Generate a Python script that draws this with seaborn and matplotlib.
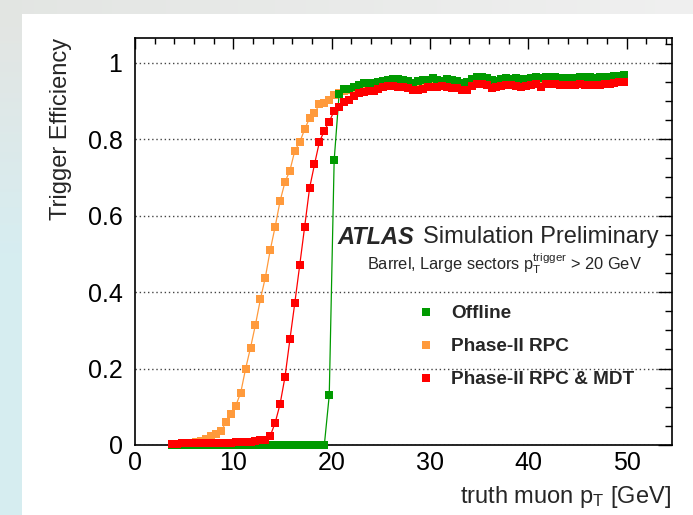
import numpy as np
import pandas as pd
import seaborn as sns
import matplotlib
matplotlib.use("Agg")
import matplotlib.pyplot as plt
from matplotlib.lines import Line2D
from matplotlib.ticker import MultipleLocator

# ---------------- data ----------------
pt_bins = np.arange(3.75, 50.0, 0.5)  # bin centres (0.5 GeV bins)

offline = [0.0] * 32 + [
    0.13, 0.745, 0.917, 0.930, 0.931, 0.937, 0.943, 0.946, 0.947, 0.948, 0.950, 0.953, 0.955, 0.957, 0.957, 0.954, 0.953,
    0.948, 0.952, 0.955, 0.955, 0.959, 0.955, 0.953, 0.957, 0.955, 0.951, 0.948, 0.949, 0.958, 0.962, 0.962, 0.960,
    0.955, 0.952, 0.957, 0.960, 0.958, 0.959, 0.957, 0.958, 0.961, 0.963,
    0.959, 0.963, 0.963, 0.962, 0.961, 0.960, 0.960, 0.961, 0.963, 0.963, 0.962, 0.961, 0.962, 0.962, 0.963, 0.965,
    0.966, 0.967]

rpc = [
    0.000, 0.001, 0.002, 0.003, 0.005, 0.007, 0.011, 0.017, 0.024, 0.029, 0.037, 0.059, 0.080, 0.103, 0.137, 0.200,
    0.255, 0.315, 0.381, 0.438, 0.510, 0.571, 0.638, 0.688, 0.718, 0.770, 0.792, 0.826, 0.855, 0.868, 0.891, 0.894,
    0.902, 0.915, 0.922,
    0.925, 0.928, 0.931, 0.933, 0.935, 0.936, 0.937, 0.938, 0.940, 0.941, 0.941, 0.940, 0.940, 0.939,
    0.934, 0.935, 0.937, 0.940, 0.941, 0.940, 0.942, 0.940, 0.939, 0.938, 0.935, 0.936, 0.942, 0.947, 0.947, 0.945,
    0.940, 0.941, 0.944, 0.946, 0.945, 0.943, 0.941, 0.944, 0.947, 0.948,
    0.942, 0.949, 0.949, 0.948, 0.946, 0.945, 0.945, 0.946, 0.948, 0.947, 0.946, 0.946, 0.947, 0.948, 0.948, 0.951,
    0.953, 0.954]

rpc_mdt = [
    0.003, 0.003, 0.004, 0.004, 0.004, 0.005, 0.005, 0.005, 0.005, 0.005, 0.006, 0.006, 0.006, 0.007, 0.007, 0.008,
    0.009, 0.010, 0.012, 0.014,
    0.024, 0.058, 0.107, 0.178, 0.276, 0.372, 0.471, 0.571, 0.672, 0.734, 0.793, 0.822, 0.846, 0.874, 0.885, 0.896,
    0.902, 0.913, 0.920, 0.923, 0.925, 0.926, 0.930, 0.937, 0.938, 0.938, 0.937, 0.937, 0.933,
    0.929, 0.929, 0.932, 0.936, 0.937, 0.936, 0.938, 0.936, 0.934, 0.934, 0.929, 0.929, 0.938, 0.944, 0.944, 0.942,
    0.935, 0.936, 0.940, 0.942, 0.941, 0.938, 0.936, 0.939, 0.943, 0.944,
    0.937, 0.945, 0.945, 0.944, 0.942, 0.941, 0.941, 0.942, 0.945, 0.943, 0.942, 0.942, 0.943, 0.944, 0.944, 0.948,
    0.950, 0.950]

series_names = ["Offline", "Phase-II RPC", "Phase-II RPC & MDT"]
series_colors = {"Offline": "#009a00", "Phase-II RPC": "#ff9a3c", "Phase-II RPC & MDT": "#ff0000"}
draw_order = ["Phase-II RPC", "Offline", "Phase-II RPC & MDT"]

x_ticks = [0, 10, 20, 30, 40, 50]
x_tick_labels = ["0", "10", "20", "30", "40", "50"]
y_ticks = [0, 0.2, 0.4, 0.6, 0.8, 1.0]
y_tick_labels = ["0", "0.2", "0.4", "0.6", "0.8", "1"]

df = pd.concat([
    pd.DataFrame({"pt": pt_bins, "eff": offline, "series": "Offline"}),
    pd.DataFrame({"pt": pt_bins, "eff": rpc, "series": "Phase-II RPC"}),
    pd.DataFrame({"pt": pt_bins, "eff": rpc_mdt, "series": "Phase-II RPC & MDT"}),
], ignore_index=True)

# ---------------- style ----------------
sns.set_theme(style="white")
plt.rcParams["font.family"] = ["Liberation Sans", "DejaVu Sans"]
plt.rcParams["mathtext.fontset"] = "custom"
plt.rcParams["mathtext.rm"] = "Liberation Sans"
plt.rcParams["mathtext.it"] = "Liberation Sans:italic"
plt.rcParams["mathtext.bf"] = "Liberation Sans:bold"

W, H = 693, 515
fig = plt.figure(figsize=(W / 100, H / 100), dpi=100)

# background (slide-like gradient with white panel)
bg = fig.add_axes([0, 0, 1, 1], zorder=-10)
img = np.ones((H, W, 3))
top_h, left_w = 14, 22
for r in range(top_h):
    t = np.linspace(0, 1, W)[:, None]
    img[r, :, :] = (1 - t) * np.array([0.89, 0.90, 0.89]) + t * np.array([0.94, 0.94, 0.94])
yy = np.linspace(0, 1, H)[:, None]
w = np.clip((yy - 0.05) / 0.45, 0, 1)
left_col = (1 - w) * np.array([0.89, 0.90, 0.89]) + w * np.array([0.84, 0.93, 0.945])
img[:, :left_w, :] = left_col[:, None, :]
bg.imshow(img, extent=[0, 1, 0, 1], aspect="auto", origin="upper", interpolation="bilinear")
bg.axis("off")

ax = fig.add_axes([135 / W, 1 - 445 / H, (672 - 135) / W, (445 - 37.5) / H], zorder=0)
ax.set_facecolor("white")

for name in draw_order:
    sns.lineplot(data=df[df["series"] == name], x="pt", y="eff", color=series_colors[name],
                 marker="s", markersize=5.8, markeredgewidth=0, linewidth=0.9,
                 ax=ax, legend=False, clip_on=False, zorder=3)

ax.set_xlim(0, 54.6)
ax.set_ylim(0, 1.066)
ax.set_xticks(x_ticks)
ax.set_xticklabels(x_tick_labels)
ax.set_yticks(y_ticks)
ax.set_yticklabels(y_tick_labels)
ax.xaxis.set_minor_locator(MultipleLocator(2))
ax.yaxis.set_minor_locator(MultipleLocator(0.05))
ax.tick_params(which="both", direction="in", top=True, right=True, width=1, color="black",
               labelsize=18, labelcolor="black")
ax.tick_params(axis="x", which="major", length=8, pad=4)
ax.tick_params(axis="x", which="minor", length=4)
ax.tick_params(axis="y", which="major", length=10, pad=9)
ax.tick_params(axis="y", which="minor", length=5)
for s in ax.spines.values():
    s.set_color("black")
    s.set_linewidth(1.2)
ax.yaxis.grid(True, which="major", linestyle=(0, (1, 2)), color="#444444", linewidth=1)
ax.xaxis.grid(False)
ax.set_axisbelow(True)
ax.set_xlabel("")
ax.set_ylabel("")

# axis titles (ROOT style: aligned at the end of the axis)
fig.text(671 / W, 1 - 503 / H, r"truth muon p$_{\mathrm{T}}$ [GeV]", ha="right", va="baseline", fontsize=17)
fig.text(61 / W, 1 - 38 / H, "Trigger Efficiency", rotation=90, ha="center", va="top", fontsize=17)

# ATLAS label
fig.text(337 / W, 1 - 243.5 / H, "ATLAS", fontsize=17, fontweight="bold", style="italic", va="baseline")
fig.text(423 / W, 1 - 243.5 / H, "Simulation Preliminary", fontsize=17, va="baseline")
fig.text(367 / W, 1 - 269 / H, r"Barrel, Large sectors $\mathrm{p}_{\mathrm{T}}^{\mathrm{trigger}}$ > 20 GeV",
         fontsize=11.8, va="baseline")

# legend (markers only)
handles = [Line2D([], [], marker="s", linestyle="none", color=series_colors[n], markersize=5.8, markeredgewidth=0)
           for n in series_names]
ax.legend(handles, series_names, loc="upper left", bbox_to_anchor=(416 / W, 1 - 305 / H),
          bbox_transform=fig.transFigure, frameon=False, prop={"weight": "bold", "size": 13.7},
          handlelength=1.0, handletextpad=0.85, labelspacing=0.82, borderpad=0, borderaxespad=0)

fig.savefig("out.png", dpi=100)
